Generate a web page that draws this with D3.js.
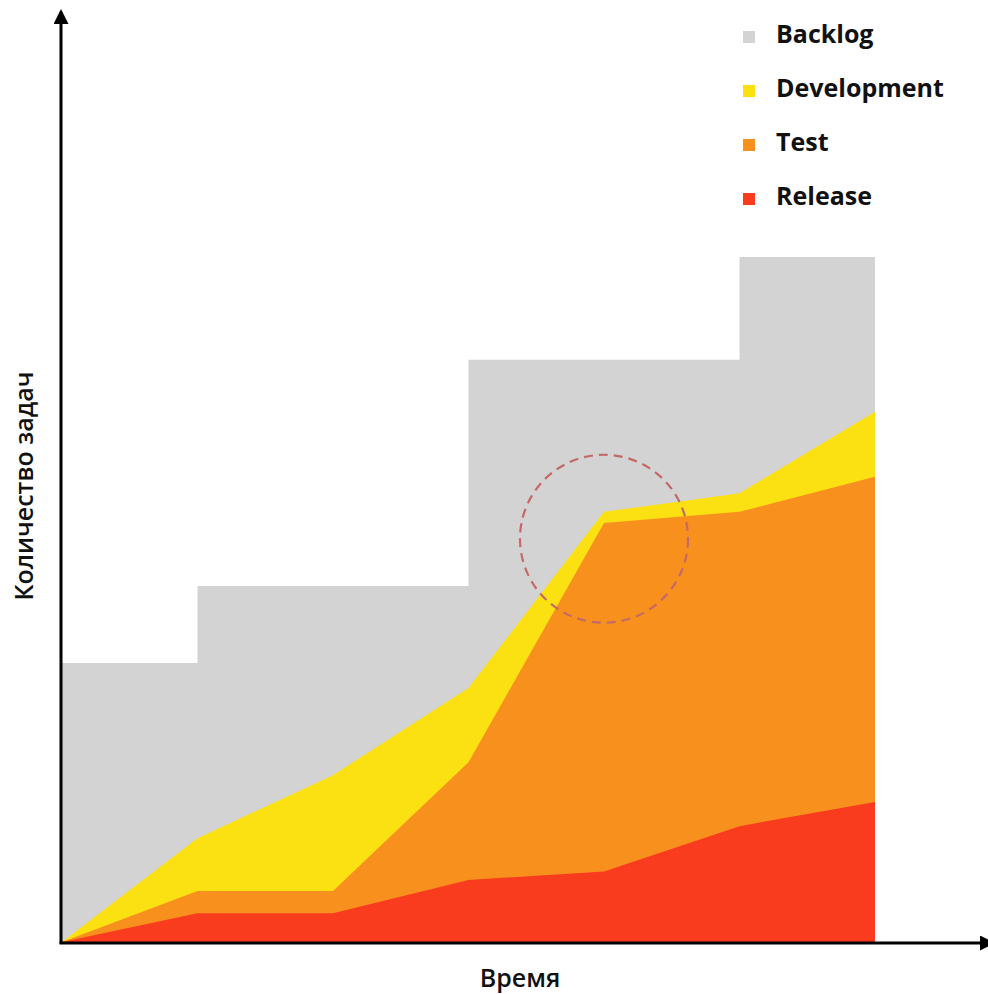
<!DOCTYPE html>
<html>
<head>
<meta charset="utf-8">
<script src="https://cdn.jsdelivr.net/npm/d3@7/dist/d3.min.js"></script>
<style>
  html, body { margin: 0; padding: 0; background: #fff; }
  svg { display: block; }
</style>
</head>
<body>
<svg id="chart" width="988" height="994"></svg>
<script>
// Time steps along the horizontal axis
const timePoints = [0, 1, 2, 3, 4, 5, 6];

// Cumulative task counts per stage (each layer counts everything that reached that stage)
const cumBacklog     = [30.1, 38.4, 38.4, 62.8, 62.8, 73.9, 73.9];
const cumDevelopment = [0, 11.2, 18.0, 27.4, 46.4, 48.4, 57.2];
const cumTest        = [0, 5.5, 5.5, 19.4, 45.2, 46.4, 50.2];
const cumRelease     = [0, 3.1, 3.1, 6.7, 7.6, 12.5, 15.1];

// Legend entries
const legendLabels = ["Backlog", "Development", "Test", "Release"];
const layerColors  = ["#d3d3d3", "#fbe012", "#f8901e", "#f83c1d"];

// Point of interest highlighted with a dashed ring (time step, task count)
const highlight = [4, 43.5];

const axisTitles = { x: "Время", y: "Количество задач" };

const svg = d3.select("#chart");

const x = d3.scaleLinear().domain([0, 6]).range([62, 875]);
const y = d3.scaleLinear().domain([0, 100]).range([942, 15]);

const layers = [
  { values: cumBacklog,     curve: d3.curveStepAfter, color: layerColors[0] },
  { values: cumDevelopment, curve: d3.curveLinear,    color: layerColors[1] },
  { values: cumTest,        curve: d3.curveLinear,    color: layerColors[2] },
  { values: cumRelease,     curve: d3.curveLinear,    color: layerColors[3] }
];

const plot = svg.append("g");

layers.forEach(layer => {
  const area = d3.area()
    .x((d, i) => x(timePoints[i]))
    .y0(y(0))
    .y1(d => y(d))
    .curve(layer.curve);
  plot.append("path")
    .datum(layer.values)
    .attr("d", area)
    .attr("fill", layer.color);
});

// Dashed ring around the point where testing stalls
plot.append("circle")
  .attr("cx", x(highlight[0]))
  .attr("cy", y(highlight[1]))
  .attr("r", 84)
  .attr("fill", "none")
  .attr("stroke", "#c46a66")
  .attr("stroke-width", 2.2)
  .attr("stroke-dasharray", "9,6");

// Axes drawn as arrows
const defs = svg.append("defs");
defs.append("marker")
  .attr("id", "arrow")
  .attr("viewBox", "0 0 10 10")
  .attr("refX", 8)
  .attr("refY", 5)
  .attr("markerWidth", 5)
  .attr("markerHeight", 5)
  .attr("markerUnits", "strokeWidth")
  .attr("orient", "auto")
  .append("path")
  .attr("d", "M0,0 L10,5 L0,10 Z")
  .attr("fill", "#000");

svg.append("line")
  .attr("x1", 61).attr("y1", y(0) + 1.5)
  .attr("x2", 61).attr("y2", 12)
  .attr("stroke", "#000").attr("stroke-width", 3)
  .attr("marker-end", "url(#arrow)");

svg.append("line")
  .attr("x1", 59.5).attr("y1", y(0) + 1)
  .attr("x2", 992).attr("y2", y(0) + 1)
  .attr("stroke", "#000").attr("stroke-width", 3)
  .attr("marker-end", "url(#arrow)");

// Axis titles
svg.append("text")
  .attr("x", 520).attr("y", 987)
  .attr("text-anchor", "middle")
  .attr("font-family", "'Open Sans', sans-serif")
  .attr("font-weight", 600)
  .attr("font-size", 25)
  .attr("fill", "#111")
  .text(axisTitles.x);

svg.append("text")
  .attr("transform", "translate(33,486) rotate(-90)")
  .attr("text-anchor", "middle")
  .attr("font-family", "'Open Sans', sans-serif")
  .attr("font-weight", 600)
  .attr("font-size", 25)
  .attr("fill", "#111")
  .text(axisTitles.y);

// Legend
const legend = svg.append("g").attr("transform", "translate(743,43)");
legendLabels.forEach((label, i) => {
  const row = legend.append("g").attr("transform", `translate(0,${i * 54})`);
  row.append("rect")
    .attr("x", 0).attr("y", -12)
    .attr("width", 12).attr("height", 12)
    .attr("fill", layerColors[i]);
  row.append("text")
    .attr("x", 33).attr("y", 0)
    .attr("font-family", "'Open Sans', sans-serif")
    .attr("font-weight", 700)
    .attr("font-size", 25)
    .attr("fill", "#111")
    .text(label);
});
</script>
</body>
</html>
